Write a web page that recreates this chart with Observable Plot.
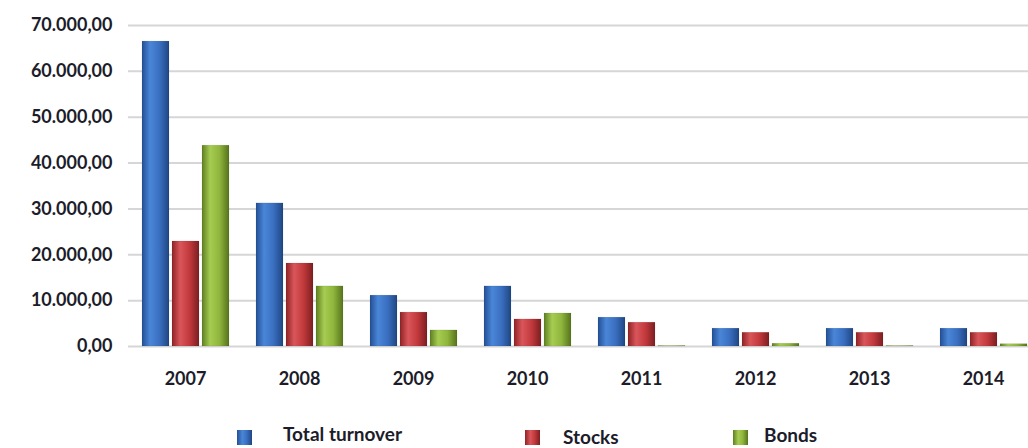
<!DOCTYPE html>
<html>
<head>
<meta charset="utf-8">
<script src="https://cdn.jsdelivr.net/npm/d3@7"></script>
<script src="https://cdn.jsdelivr.net/npm/@observablehq/plot@0.6"></script>
<style>
  html, body { margin: 0; padding: 0; background: #fff; }
  body { width: 1028px; height: 448px; overflow: hidden; position: relative; font-family: Lato, "Open Sans", sans-serif; }
  #chart { position: absolute; left: 0; top: 0; }
  .leg { position: absolute; font-family: Lato, sans-serif; font-weight: 700; font-size: 19px; line-height: 19px; color: #1c1c2a; white-space: nowrap; }
  .sw { width: 15px; height: 15px; position: absolute; }
</style>
</head>
<body>
<div id="chart"></div>
<div id="legend"></div>
<script>
const years = ["2007", "2008", "2009", "2010", "2011", "2012", "2013", "2014"];
const seriesNames = ["Total turnover", "Stocks", "Bonds"];
const totalTurnover = [66500, 31200, 11100, 13100, 6300, 3900, 3900, 3900];
const stocks = [22900, 18100, 7400, 5900, 5200, 3000, 3000, 3000];
const bonds = [43800, 13100, 3500, 7200, 100, 600, 100, 500];
const yTicks = [0, 10000, 20000, 30000, 40000, 50000, 60000, 70000];

const seriesValues = [totalTurnover, stocks, bonds];
const data = [];
years.forEach((yr, i) => seriesNames.forEach((s, j) => data.push({year: yr, series: s, value: seriesValues[j][i]})));

const fmt = d3.formatLocale({decimal: ",", thousands: ".", grouping: [3], currency: ["", ""]}).format(",.2f");

const gradIds = ["gBlue", "gRed", "gGreen"];
const shades = [
  ["#234f94", "#4a86d8", "#3a6fc0", "#1f4683"],
  ["#8e2326", "#d9565a", "#c2393c", "#7c1e21"],
  ["#5f7f22", "#a6cc52", "#8fb53c", "#56731d"]
];

const chart = Plot.plot({
  width: 1028,
  height: 400,
  marginLeft: 126,
  marginRight: -14,
  marginTop: 25,
  marginBottom: 54,
  style: {fontFamily: "Lato, 'Open Sans', sans-serif", fontSize: "17px", fontWeight: "700", color: "#1c1c2a", background: "#fff", overflow: "hidden"},
  fx: {domain: years, padding: 0, label: null},
  x: {domain: seriesNames, paddingInner: 0.113, paddingOuter: 0.4, axis: null},
  y: {domain: [0, 70000], ticks: yTicks, label: null},
  color: {type: "ordinal", domain: seriesNames, range: gradIds.map(id => `url(#${id})`)},
  marks: [
    Plot.gridY(yTicks, {stroke: "#d6d6d6", strokeOpacity: 1, strokeWidth: 2}),
    Plot.axisY({ticks: yTicks, tickSize: 0, tickPadding: 16, tickFormat: fmt, label: null, fontSize: 18, fontWeight: 700}),
    Plot.axisFx({anchor: "bottom", tickSize: 0, tickPadding: 26, label: null, fontSize: 18, fontWeight: 700}),
    Plot.barY(data, {fx: "year", x: "series", y: "value", fill: "series", stroke: "#00000022", strokeWidth: 0.5})
  ]
});

// gradient defs for 3D-looking bars
const ns = "http://www.w3.org/2000/svg";
const defs = document.createElementNS(ns, "defs");
gradIds.forEach((id, i) => {
  const g = document.createElementNS(ns, "linearGradient");
  g.setAttribute("id", id);
  g.setAttribute("x1", "0"); g.setAttribute("x2", "1"); g.setAttribute("y1", "0"); g.setAttribute("y2", "0");
  [[0, shades[i][0]], [0.3, shades[i][1]], [0.65, shades[i][2]], [1, shades[i][3]]].forEach(([o, c]) => {
    const s = document.createElementNS(ns, "stop");
    s.setAttribute("offset", o); s.setAttribute("stop-color", c);
    g.appendChild(s);
  });
  defs.appendChild(g);
});
chart.insertBefore(defs, chart.firstChild);
document.getElementById("chart").appendChild(chart);

// legend
const legend = document.getElementById("legend");
const legPos = [{sw: 237, tx: 283, ty: 424}, {sw: 525, tx: 563, ty: 427}, {sw: 733, tx: 764, ty: 425}];
seriesNames.forEach((s, i) => {
  const sw = document.createElement("div");
  sw.className = "sw";
  sw.style.left = legPos[i].sw + "px";
  sw.style.top = "430px";
  sw.style.background = `linear-gradient(90deg, ${shades[i][0]}, ${shades[i][1]} 35%, ${shades[i][2]} 65%, ${shades[i][3]})`;
  legend.appendChild(sw);
  const t = document.createElement("div");
  t.className = "leg";
  t.style.left = legPos[i].tx + "px";
  t.style.top = legPos[i].ty + "px";
  t.textContent = s;
  legend.appendChild(t);
});
</script>
</body>
</html>
